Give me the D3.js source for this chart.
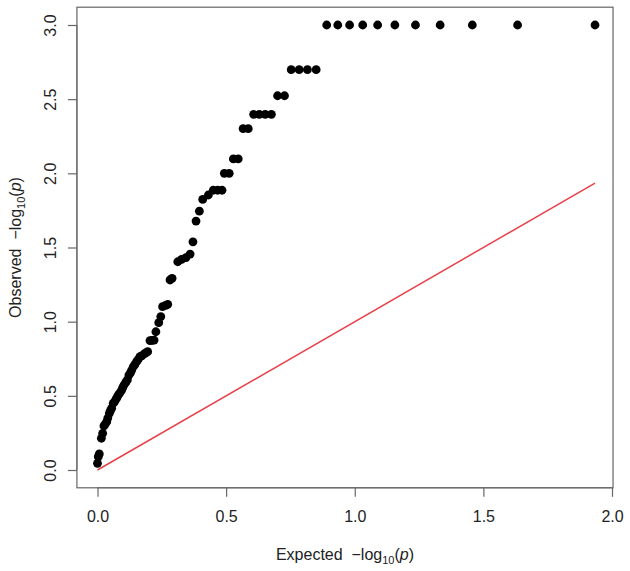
<!DOCTYPE html>
<html>
<head>
<meta charset="utf-8">
<script src="https://cdn.jsdelivr.net/npm/d3@7"></script>
<style>
  body { margin: 0; background: #fff; }
  text { font-family: "Liberation Sans", Arial, sans-serif; fill: #222; }
</style>
</head>
<body>
<div id="chart"></div>
<script>
// expected -log10(p)
const expected = [
  1.934, 1.633, 1.457, 1.332, 1.236, 1.156, 1.089, 1.031, 0.980, 0.934, 0.891,
  0.850, 0.816, 0.784, 0.753,
  0.727, 0.700,
  0.676, 0.652, 0.629, 0.607,
  0.586, 0.566,
  0.547, 0.528,
  0.512, 0.493,
  0.484, 0.467, 0.450,
  0.431, 0.409, 0.396, 0.383, 0.371,
  0.360, 0.344, 0.327, 0.312,
  0.290, 0.282, 0.273, 0.265, 0.253, 0.246, 0.238, 0.227, 0.220, 0.212,
  0.204, 0.195, 0.188, 0.181, 0.172, 0.165, 0.158, 0.152, 0.145, 0.139,
  0.133, 0.128, 0.122, 0.116, 0.110, 0.103, 0.098, 0.094, 0.087, 0.081,
  0.076, 0.072, 0.066, 0.061, 0.055, 0.050, 0.046, 0.040, 0.036, 0.030,
  0.025, 0.020, 0.015, 0.007, 0.003, 0.000
]
// observed -log10(p)
const observed = [
  3.0, 3.0, 3.0, 3.0, 3.0, 3.0, 3.0, 3.0, 3.0, 3.0, 3.0,
  2.699, 2.699, 2.699, 2.699,
  2.523, 2.523,
  2.398, 2.398, 2.398, 2.398,
  2.301, 2.301,
  2.097, 2.097,
  2.0, 2.0,
  1.886, 1.886, 1.886,
  1.854, 1.824, 1.745, 1.678, 1.538,
  1.456, 1.432, 1.420, 1.404,
  1.292, 1.281, 1.117, 1.110, 1.101, 1.034, 0.993, 0.932, 0.876, 0.874,
  0.872, 0.798, 0.790, 0.782, 0.770, 0.764, 0.745, 0.730, 0.710, 0.696,
  0.674, 0.655, 0.640, 0.607, 0.590, 0.573, 0.555, 0.539, 0.520, 0.506,
  0.490, 0.477, 0.460, 0.450, 0.416, 0.400, 0.382, 0.350, 0.326, 0.310,
  0.297, 0.247, 0.214, 0.108, 0.090, 0.045
]
const xTicks = [0, 0.5, 1.0, 1.5, 2.0]
const yTicks = [0, 0.5, 1.0, 1.5, 2.0, 2.5, 3.0]
const diagEnd = 1.934

const width = 630
const height = 571

const svg = d3.select("#chart").append("svg").attr("width", width).attr("height", height)

const x = d3.scaleLinear().domain([0, 2]).range([97.5, 612])
const y = d3.scaleLinear().domain([0, 3]).range([470, 25])

const box = { x0: x(-0.08), x1: x(2.004), y0: y(3.12), y1: y(-0.12) }

// plot frame
svg.append("rect")
  .attr("x", box.x0)
  .attr("y", box.y0)
  .attr("width", box.x1 - box.x0)
  .attr("height", box.y1 - box.y0)
  .attr("fill", "none")
  .attr("stroke", "#666")
  .attr("stroke-width", 1.2)

// x axis
const xAxis = svg.append("g")
  .attr("transform", `translate(0,${box.y1})`)
  .call(d3.axisBottom(x).tickValues(xTicks).tickFormat(d3.format(".1f")).tickSize(9).tickPadding(14))
xAxis.select(".domain").attr("stroke", "#666").attr("d", `M${x(0)},0H${x(2)}`)
xAxis.selectAll(".tick line").attr("stroke", "#666").attr("stroke-width", 1.2)
xAxis.selectAll(".tick text").attr("font-size", 16).attr("fill", "#222")
  .attr("font-family", "Liberation Sans, Arial, sans-serif")

// y axis, labels rotated like base R
const yAxis = svg.append("g")
  .attr("transform", `translate(${box.x0},0)`)
  .call(d3.axisLeft(y).tickValues(yTicks).tickFormat(d3.format(".1f")).tickSize(9))
yAxis.select(".domain").attr("stroke", "#666").attr("d", `M0,${y(0)}V${y(3)}`)
yAxis.selectAll(".tick line").attr("stroke", "#666").attr("stroke-width", 1.2)
yAxis.selectAll(".tick text")
  .attr("font-size", 16).attr("fill", "#222")
  .attr("font-family", "Liberation Sans, Arial, sans-serif")
  .attr("x", null).attr("dy", null)
  .attr("text-anchor", "middle")
  .attr("transform", `translate(${56 - box.x0},0) rotate(-90)`)

// diagonal reference line
svg.append("line")
  .attr("x1", x(0)).attr("y1", y(0))
  .attr("x2", x(diagEnd)).attr("y2", y(diagEnd))
  .attr("stroke", "#e8404a")
  .attr("stroke-width", 1.5)

// points
svg.selectAll(".pt")
  .data(expected.map((e, i) => [e, observed[i]]))
  .join("circle")
  .attr("class", "pt")
  .attr("cx", d => x(d[0]))
  .attr("cy", d => y(d[1]))
  .attr("r", 4.4)
  .attr("fill", "#000")

// axis titles with subscript and italic p
function title(sel, label) {
  sel.append("tspan").text(label + "\u00a0\u00a0\u2212log")
  sel.append("tspan").attr("font-size", 11).attr("dy", 4).text("10")
  sel.append("tspan").attr("dy", -4).text("(")
  sel.append("tspan").attr("font-style", "italic").text("p")
  sel.append("tspan").text(")")
}

svg.append("text")
  .attr("x", (box.x0 + box.x1) / 2)
  .attr("y", 560)
  .attr("text-anchor", "middle")
  .attr("font-size", 16)
  .call(title, "Expected")

svg.append("text")
  .attr("transform", `translate(21,${(box.y0 + box.y1) / 2}) rotate(-90)`)
  .attr("text-anchor", "middle")
  .attr("font-size", 16)
  .call(title, "Observed")
</script>
</body>
</html>
